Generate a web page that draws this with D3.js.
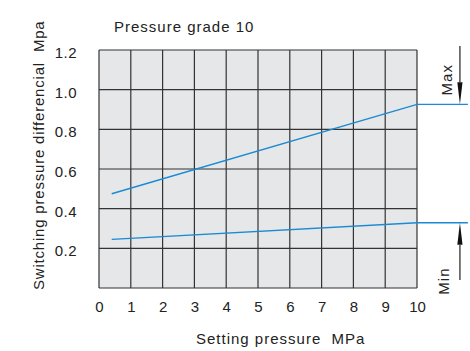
<!DOCTYPE html>
<html><head><meta charset="utf-8">
<script src="https://cdn.jsdelivr.net/npm/d3@7"></script>
<style>
html,body{margin:0;padding:0;background:#fff;}
svg{display:block;}
text{font-family:"Liberation Sans",Arial,sans-serif;fill:#222;white-space:pre;}
</style></head>
<body>
<svg id="c" width="470" height="351"></svg>
<script>
const title = "Pressure grade 10";
const xTitle = "Setting pressure  MPa";
const yTitle = "Switching pressure differencial  Mpa";
const xTicks = [0,1,2,3,4,5,6,7,8,9,10];
const yTicks = [0.2,0.4,0.6,0.8,1.0,1.2];
const yGrid = [0,0.2,0.4,0.6,0.8,1.0,1.2];
const maxX = [0.4, 10];
const maxY = [0.475, 0.926];
const minX = [0.4, 10];
const minY = [0.245, 0.329];
const extendTo = 11.6;

const svg = d3.select("#c");
const x = d3.scaleLinear().domain([0,10]).range([99,417]);
const y = d3.scaleLinear().domain([0,1.2]).range([288,50]);

svg.append("rect").attr("x",x(0)).attr("y",y(1.2))
  .attr("width",x(10)-x(0)).attr("height",y(0)-y(1.2)).attr("fill","#e6e7e8");

const g = svg.append("g").attr("stroke","#333").attr("stroke-width",1.2);
g.selectAll("line.v").data(xTicks).join("line")
  .attr("x1",d=>x(d)).attr("x2",d=>x(d)).attr("y1",y(0)).attr("y2",y(1.2));
g.selectAll("line.h").data(yGrid).join("line").attr("class","h")
  .attr("y1",d=>y(d)).attr("y2",d=>y(d)).attr("x1",x(0)).attr("x2",x(10));

const xa = svg.append("g").attr("transform",`translate(0,${y(0)})`)
  .call(d3.axisBottom(x).tickValues(xTicks).tickSize(0).tickPadding(13).tickFormat(d3.format("d")));
xa.select(".domain").remove();
xa.selectAll("text").attr("font-size",15).attr("fill","#222").attr("font-family","Liberation Sans, Arial, sans-serif");

const ya = svg.append("g").attr("transform",`translate(${x(0)},0)`)
  .call(d3.axisLeft(y).tickValues(yTicks).tickSize(0).tickPadding(22).tickFormat(d3.format(".1f")));
ya.select(".domain").remove();
ya.selectAll("text").attr("font-size",15).attr("fill","#222").attr("dy","0.5em").attr("letter-spacing",0.5).attr("font-family","Liberation Sans, Arial, sans-serif");

const line = d3.line().x(d=>x(d[0])).y(d=>y(d[1]));
const maxPts = maxX.map((v,i)=>[v,maxY[i]]).concat([[extendTo,maxY[1]]]);
const minPts = minX.map((v,i)=>[v,minY[i]]).concat([[extendTo,minY[1]]]);
[maxPts,minPts].forEach(p=>svg.append("path").attr("d",line(p)).attr("fill","none")
  .attr("stroke","#1a8ad4").attr("stroke-width",1.4));

const ax = 11.35;
function arrow(y0, y1){
  const X = x(ax), Y0 = y(y0), Y1 = y(y1);
  const dir = Math.sign(Y1-Y0);
  const headLen = 22, hw = 2.6;
  svg.append("line").attr("x1",X).attr("x2",X).attr("y1",Y0).attr("y2",Y1-dir*headLen)
    .attr("stroke","#222").attr("stroke-width",1.2);
  svg.append("path").attr("d",`M${X-hw},${Y1-dir*headLen}L${X+hw},${Y1-dir*headLen}L${X},${Y1}Z`).attr("fill","#111");
}
arrow(1.22, maxY[1]);
arrow(0.04, minY[1]);

svg.append("text").attr("transform",`translate(${x(ax)-8},${y(1.05)}) rotate(-90)`)
  .attr("text-anchor","middle").attr("font-size",15).attr("letter-spacing",1).text("Max");
svg.append("text").attr("transform",`translate(${x(ax)-11},${y(0.035)}) rotate(-90)`)
  .attr("text-anchor","middle").attr("font-size",15).attr("letter-spacing",1).text("Min");

svg.append("text").attr("x",114).attr("y",32).attr("font-size",15).attr("letter-spacing",1).text(title);
svg.append("text").attr("x",196).attr("y",344).attr("font-size",15).attr("letter-spacing",1).text(xTitle);
svg.append("text").attr("transform","translate(44,290) rotate(-90)").attr("font-size",15).attr("letter-spacing",0.8).text(yTitle);
</script>
</body></html>
